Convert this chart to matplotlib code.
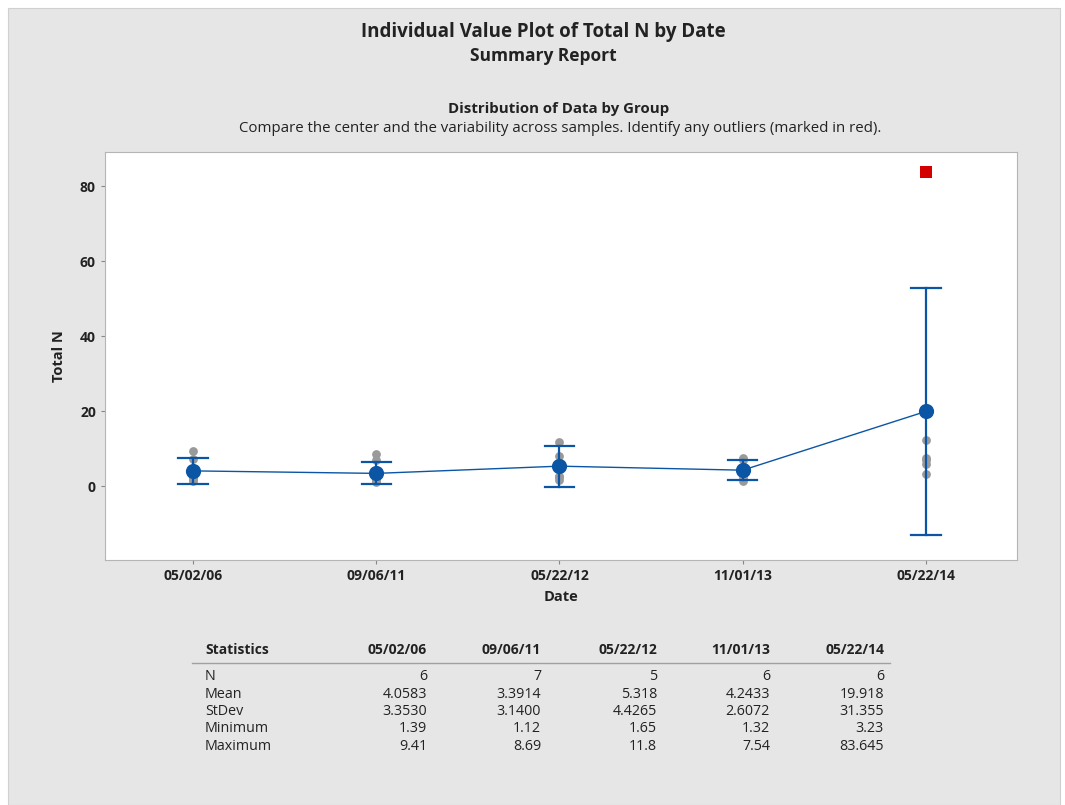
import matplotlib
matplotlib.use("Agg")
import matplotlib.pyplot as plt
from matplotlib.patches import Rectangle
import numpy as np

plt.rcParams['font.family'] = ['Open Sans', 'DejaVu Sans']

dates = ["05/02/06", "09/06/11", "05/22/12", "11/01/13", "05/22/14"]
g1 = [9.41, 7.1, 2.3, 2.2, 1.95, 1.39]
g2 = [8.69, 7.0, 2.4, 1.7, 1.5, 1.33, 1.12]
g3 = [11.8, 8.0, 2.7, 2.44, 1.65]
g4 = [7.54, 7.0, 4.6, 2.9, 2.1, 1.32]
g5 = [83.645, 12.3, 7.6, 6.9, 5.83, 3.23]
groups = [g1, g2, g3, g4, g5]
outlier_group = 4
outlier_value = 83.645

stat_names = ["N", "Mean", "StDev", "Minimum", "Maximum"]
n_vals = ["6", "7", "5", "6", "6"]
mean_vals = [4.0583, 3.3914, 5.318, 4.2433, 19.918]
mean_txt = ["4.0583", "3.3914", "5.318", "4.2433", "19.918"]
sd_vals = [3.3530, 3.1400, 4.4265, 2.6072, 31.355]
sd_txt = ["3.3530", "3.1400", "4.4265", "2.6072", "31.355"]
min_txt = ["1.39", "1.12", "1.65", "1.32", "3.23"]
max_txt = ["9.41", "8.69", "11.8", "7.54", "83.645"]
t_crit = [2.571, 2.447, 2.776, 2.571, 2.571]  # 95% t critical values for n-1 df
n_num = [6, 7, 5, 6, 6]

W, H = 1065, 805
fig = plt.figure(figsize=(W / 100, H / 100), dpi=100)
fig.patch.set_facecolor("white")
fig.patches.append(Rectangle((8 / W, 0), (1060 - 8) / W, (H - 8) / H,
                             transform=fig.transFigure, facecolor="#e6e6e6",
                             edgecolor="#d0d0d0", lw=0.8, zorder=-10))

def fy(py):
    return 1 - py / H

def fx(px):
    return px / W

fig.text(fx(543), fy(32), "Individual Value Plot of Total N by Date", ha="center", va="center",
         fontsize=13.5, fontweight="bold", color="#222222")
fig.text(fx(543), fy(56), "Summary Report", ha="center", va="center",
         fontsize=12.5, fontweight="bold", color="#222222")
fig.text(fx(559), fy(109), "Distribution of Data by Group", ha="center", va="center",
         fontsize=10.8, fontweight="bold", color="#222222")
fig.text(fx(560), fy(128), "Compare the center and the variability across samples. Identify any outliers (marked in red).",
         ha="center", va="center", fontsize=10.8, color="#222222")

ax = fig.add_axes([fx(105), fy(560), fx(1017) - fx(105), fy(152) - fy(560)])
ax.set_facecolor("white")
for s in ax.spines.values():
    s.set_color("#b5b5b5")
    s.set_linewidth(0.8)

blue = "#0a56a4"
xs = np.arange(len(dates))
for i, g in enumerate(groups):
    vals = np.array(g, dtype=float)
    normal = [v for v in vals if not (i == outlier_group and v == outlier_value)]
    ax.scatter([i] * len(normal), normal, s=40, color="#9a9a9a", zorder=2, linewidths=0)
    if i == outlier_group:
        ax.scatter([i], [outlier_value], s=70, marker="s", color="#d40000", zorder=3, linewidths=0)
    half = t_crit[i] * sd_vals[i] / np.sqrt(n_num[i])
    lo, hi = mean_vals[i] - half, mean_vals[i] + half
    ax.plot([i, i], [lo, hi], color=blue, lw=1.6, zorder=3)
    for yv in (lo, hi):
        ax.plot([i - 0.08, i + 0.08], [yv, yv], color=blue, lw=1.6, zorder=3)

ax.plot(xs, mean_vals, color=blue, lw=1.0, zorder=3)
ax.scatter(xs, mean_vals, s=120, color=blue, zorder=4, linewidths=0)

ax.set_xlim(-0.48, 4.497)
ax.set_ylim(-19.7, 89.07)
ax.set_yticks([0, 20, 40, 60, 80])
ax.set_xticks(xs)
ax.set_xticklabels(dates)
ax.tick_params(axis="both", labelsize=10, colors="#222222", length=3, color="#888888")
for lab in ax.get_xticklabels() + ax.get_yticklabels():
    lab.set_fontweight("bold")
ax.set_ylabel("Total N", fontsize=10.5, fontweight="bold", color="#222222", labelpad=10)
ax.set_xlabel("Date", fontsize=10.5, fontweight="bold", color="#222222", labelpad=5)

# Statistics table
col_x = [427, 541, 657, 770, 884]
fig.text(fx(205), fy(650), "Statistics", ha="left", va="center", fontsize=10,
         fontweight="bold", color="#222222")
for cx, d in zip(col_x, dates):
    fig.text(fx(cx), fy(650), d, ha="right", va="center", fontsize=10,
             fontweight="bold", color="#222222")
fig.add_artist(plt.Line2D([fx(192), fx(890)], [fy(663), fy(663)], color="#a0a0a0",
                          lw=1.0, transform=fig.transFigure))
rows = [n_vals, mean_txt, sd_txt, min_txt, max_txt]
row_y = [677, 694, 711, 728, 746]
for name, vals, ry in zip(stat_names, rows, row_y):
    fig.text(fx(205), fy(ry), name, ha="left", va="center", fontsize=10.3, color="#222222")
    for cx, v in zip(col_x, vals):
        fig.text(fx(cx), fy(ry), v, ha="right", va="center", fontsize=10.3, color="#222222")

fig.savefig("out.png", dpi=100)
